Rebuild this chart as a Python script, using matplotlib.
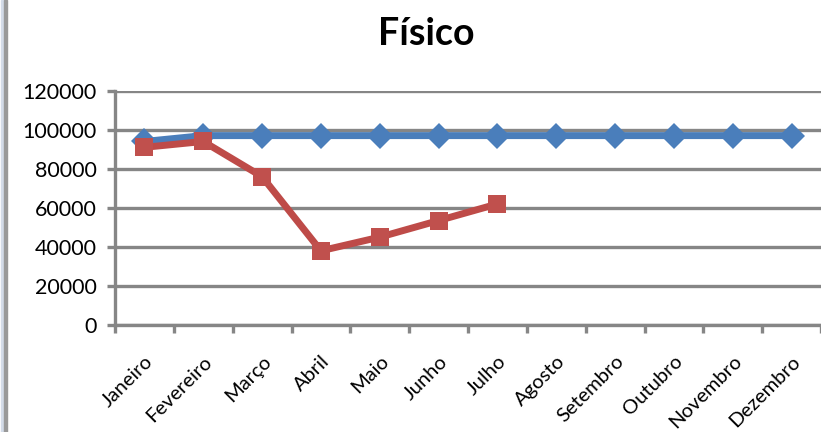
import matplotlib
matplotlib.use("Agg")
import matplotlib.pyplot as plt
from matplotlib.patches import Rectangle

# Monthly values
meses = ["Janeiro", "Fevereiro", "Março", "Abril", "Maio", "Junho", "Julho",
         "Agosto", "Setembro", "Outubro", "Novembro", "Dezembro"]
previsto = [94000, 97000, 97000, 97000, 97000, 97000, 97000,
            97000, 97000, 97000, 97000, 97000]
realizado = [91000, 94000, 76000, 38000, 45000, 53500, 62000]
y_ticks = [0, 20000, 40000, 60000, 80000, 100000, 120000]

W, H = 821, 432
fig = plt.figure(figsize=(W / 100, H / 100), dpi=100)
fig.patch.set_facecolor("white")

plt.rcParams["font.family"] = ["Lato", "DejaVu Sans"]

# Plot area in pixel coordinates
left, right, top, bottom = 115, 821, 90.7, 325
ax = fig.add_axes([left / W, 1 - bottom / H, (right - left) / W, (bottom - top) / H])
ax.set_facecolor("white")

grid_col = "#868686"
x = list(range(len(meses)))
ax.plot(x, previsto, color="#4A7EBB", lw=5, marker="D", markersize=13,
        markeredgewidth=0, markerfacecolor="#4A7EBB", zorder=3, clip_on=False)
ax.plot(x[:len(realizado)], realizado, color="#BE4B48", lw=5, marker="s",
        markersize=13, markeredgewidth=0, markerfacecolor="#C0504D",
        zorder=4, clip_on=False)

ax.set_xlim(-0.5, len(meses) - 0.5)
ax.set_ylim(0, 120000)
ax.set_yticks(y_ticks)
ax.set_yticklabels([str(v) for v in y_ticks], fontsize=15.5, color="black")
ax.yaxis.grid(True, color=grid_col, lw=2.4, zorder=1)
ax.set_axisbelow(True)

# Category ticks sit between the months
ax.set_xticks([i - 0.5 for i in range(len(meses) + 1)], minor=False)
ax.set_xticklabels([])
ax.set_xticks(x, minor=True)
ax.set_xticklabels(meses, minor=True, rotation=45, ha="right",
                   rotation_mode="anchor", fontsize=14.5)
ax.tick_params(axis="x", which="minor", length=0, pad=20)
ax.tick_params(axis="x", which="major", length=6, width=2.4, color=grid_col,
               direction="out")
ax.tick_params(axis="y", length=6, width=2.4, color=grid_col, direction="out",
               pad=7)

for s in ("top", "right"):
    ax.spines[s].set_visible(False)
for s in ("left", "bottom"):
    ax.spines[s].set_color(grid_col)
    ax.spines[s].set_linewidth(2.4)

fig.text(426 / W, 1 - 34 / H, "Físico", ha="center", va="center",
         fontsize=27, fontweight="bold", color="black")

# Chart frame edge on the left
fig.patches.append(Rectangle((1 / W, 0), 3 / W, 1, transform=fig.transFigure,
                             color="#D3DBE8", zorder=10))
fig.patches.append(Rectangle((4 / W, 0), 3 / W, 1, transform=fig.transFigure,
                             color="#999999", zorder=10))

fig.savefig("out.png", dpi=100, facecolor="white")
